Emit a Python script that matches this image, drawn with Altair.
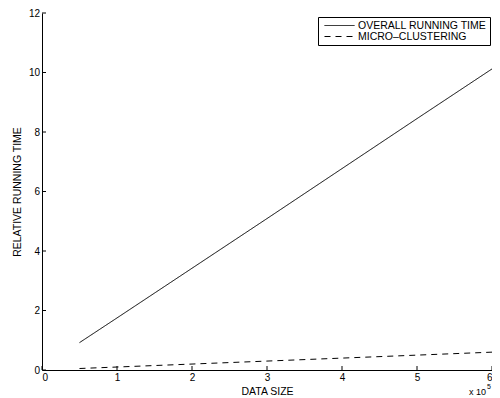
import altair as alt
import pandas as pd

# data (x in units of 10^5)
data_size = [0.5, 1, 2, 3, 4, 5, 6]
overall = [0.92, 1.75, 3.42, 5.09, 6.77, 8.45, 10.12]
micro = [0.05, 0.10, 0.20, 0.30, 0.40, 0.50, 0.60]
series_names = ["OVERALL RUNNING TIME", "MICRO–CLUSTERING"]
x_ticks = [0, 1, 2, 3, 4, 5, 6]
y_ticks = [0, 2, 4, 6, 8, 10, 12]

rows = []
for xv, a, b in zip(data_size, overall, micro):
    rows.append({"x": xv, "y": a, "s": series_names[0]})
    rows.append({"x": xv, "y": b, "s": series_names[1]})
df = pd.DataFrame(rows)

FONT = "Liberation Sans"
W, H = 450, 357

xscale = alt.Scale(domain=[0, 6], nice=False, zero=False)
yscale = alt.Scale(domain=[0, 12], nice=False)

lines = alt.Chart(df).mark_line(color="black", strokeWidth=1).encode(
    x=alt.X("x:Q", scale=xscale,
            axis=alt.Axis(title="DATA SIZE", values=x_ticks, tickSize=0, format="d",
                          labelPadding=2, titlePadding=4, grid=False)),
    y=alt.Y("y:Q", scale=yscale,
            axis=alt.Axis(title="RELATIVE RUNNING TIME", values=y_ticks, tickSize=0,
                          format="d", labelPadding=2.5, titlePadding=5.5, grid=False)),
    strokeDash=alt.StrokeDash(
        "s:N",
        scale=alt.Scale(domain=series_names, range=[[1, 0], [6, 5]]),
        legend=alt.Legend(title=None, orient="none", legendX=276, legendY=4,
                          symbolType="M-0.4,0H5.6", symbolSize=100,
                          symbolStrokeColor="black", symbolStrokeWidth=1,
                          labelFont=FONT, labelFontSize=10.5, labelColor="black",
                          labelOffset=26, padding=3, rowPadding=0,
                          strokeColor="black", fillColor="white",
                          cornerRadius=0),
    ),
)

yt = alt.Chart(pd.DataFrame({"v": y_ticks})).mark_rule(color="black", strokeWidth=1).encode(
    y=alt.Y("v:Q", scale=yscale), x=alt.value(0), x2=alt.value(4)
)
xt = alt.Chart(pd.DataFrame({"v": x_ticks})).mark_rule(color="black", strokeWidth=1).encode(
    x=alt.X("v:Q", scale=xscale), y=alt.value(H), y2=alt.value(H - 4)
)

exp_df = pd.DataFrame({"x": [6], "y": [0]})
exp_base = alt.Chart(exp_df).mark_text(text="x 10", font=FONT, fontSize=9,
                                       align="right", baseline="alphabetic",
                                       dx=-6, dy=25, color="black").encode(
    x=alt.X("x:Q", scale=xscale), y=alt.Y("y:Q", scale=yscale))
exp_sup = alt.Chart(exp_df).mark_text(text="5", font=FONT, fontSize=7,
                                      align="left", baseline="alphabetic",
                                      dx=-5, dy=19, color="black").encode(
    x=alt.X("x:Q", scale=xscale), y=alt.Y("y:Q", scale=yscale))

chart = alt.layer(lines, yt, xt, exp_base, exp_sup).properties(
    width=W, height=H,
    autosize=alt.AutoSizeParams(type="none"),
    padding={"left": 34, "top": 5, "right": 0, "bottom": 26},
    background="white",
).configure_view(stroke=None).configure_axis(
    domainColor="black", domainWidth=1,
    labelFont=FONT, labelFontSize=10, labelColor="black",
    titleFont=FONT, titleFontSize=10.5, titleFontWeight="normal", titleColor="black",
)

chart.save("out.html", embed_options={"renderer": "svg", "actions": False})
